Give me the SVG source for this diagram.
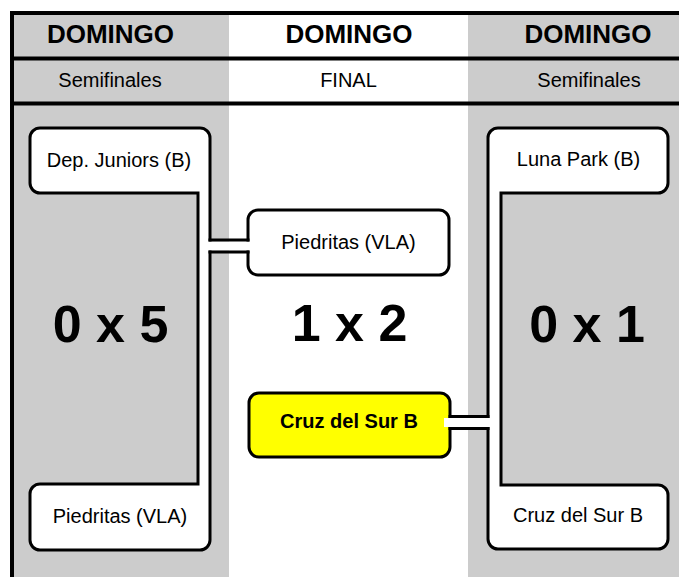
<svg xmlns="http://www.w3.org/2000/svg" width="679" height="577" viewBox="0 0 679 577">
<style>
.bg{fill:#ffffff}
.gray{fill:#cccccc}
.rule{stroke:#000;stroke-width:4;fill:none}
.box{fill:#ffffff;stroke:#000;stroke-width:3}
.win{fill:#ffff00;stroke:#000;stroke-width:3}
.line{stroke:#000;stroke-width:3;fill:none}
.arm{fill:#ffffff}
text{font-family:"Liberation Sans",Arial,sans-serif;fill:#000;text-anchor:middle}
.hd{font-size:26px;font-weight:bold}
.sub{font-size:20px}
.score{font-size:52px;font-weight:bold}
.lbl{font-size:20px}
.lblb{font-size:20px;font-weight:bold}
</style>
<rect class="bg" x="0" y="0" width="679" height="577"/>
<g id="columns">
<rect class="gray" x="14" y="13" width="215" height="564"/>
<rect class="gray" x="468" y="13" width="211" height="564"/>
</g>
<g id="frame">
<line class="rule" x1="10" y1="13" x2="679" y2="13"/>
<line class="rule" x1="12" y1="11" x2="12" y2="577"/>
<line class="rule" x1="12" y1="58.5" x2="679" y2="58.5"/>
<line class="rule" x1="12" y1="103.5" x2="679" y2="103.5"/>
</g>
<g id="headers">
<text class="hd" x="110.5" y="43">DOMINGO</text>
<text class="hd" x="349" y="43">DOMINGO</text>
<text class="hd" x="588" y="43">DOMINGO</text>
<text class="sub" x="110" y="87">Semifinales</text>
<text class="sub" x="348.5" y="87">FINAL</text>
<text class="sub" x="589" y="87">Semifinales</text>
</g>
<g id="scores">
<text class="score" x="110.5" y="342">0 x 5</text>
<text class="score" x="349.5" y="341">1 x 2</text>
<text class="score" x="587" y="342">0 x 1</text>
</g>
<g id="connectors">
<path class="box" d="M 40,128 H 200 A 10 10 0 0 1 210,138 V 540 A 10 10 0 0 1 200,550 H 40 A 10 10 0 0 1 30,540 V 494 A 10 10 0 0 1 40,484 H 198 V 193 H 40 A 10 10 0 0 1 30,183 V 138 A 10 10 0 0 1 40,128 Z"/>
<path class="box" d="M 498,128 H 658 A 10 10 0 0 1 668,138 V 183 A 10 10 0 0 1 658,193 H 501 V 485 H 658 A 10 10 0 0 1 668,495 V 539 A 10 10 0 0 1 658,549 H 498 A 10 10 0 0 1 488,539 V 138 A 10 10 0 0 1 498,128 Z"/>
</g>
<g id="final-top">
<rect class="box" x="248" y="210" width="201" height="65" rx="10"/>
<text class="lbl" x="348.5" y="249">Piedritas (VLA)</text>
</g>
<g id="final-bottom">
<rect class="win" x="249" y="393" width="201" height="64" rx="10"/>
<text class="lblb" x="349" y="428">Cruz del Sur B</text>
</g>
<g id="arms">
<rect class="arm" x="208" y="241.5" width="42" height="9"/>
<line class="line" x1="208.5" y1="240" x2="249.5" y2="240"/>
<line class="line" x1="208.5" y1="252" x2="249.5" y2="252"/>
<rect class="arm" x="444" y="418" width="46" height="9"/>
<line class="line" x1="448.5" y1="416.5" x2="489.5" y2="416.5"/>
<line class="line" x1="448.5" y1="428.5" x2="489.5" y2="428.5"/>
</g>
<g id="semi-left-top"><text class="lbl" x="119" y="167">Dep. Juniors (B)</text></g>
<g id="semi-left-bottom"><text class="lbl" x="120" y="523">Piedritas (VLA)</text></g>
<g id="semi-right-top"><text class="lbl" x="578.5" y="166">Luna Park (B)</text></g>
<g id="semi-right-bottom"><text class="lbl" x="578" y="522">Cruz del Sur B</text></g>
</svg>
